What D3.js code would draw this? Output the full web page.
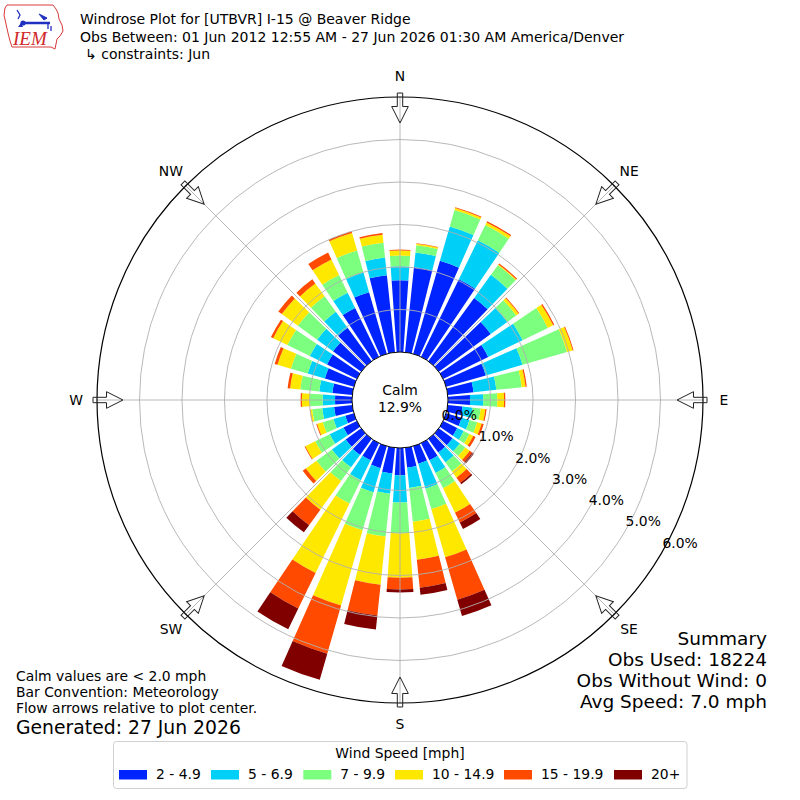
<!DOCTYPE html>
<html>
<head>
<meta charset="utf-8">
<script src="https://cdn.jsdelivr.net/npm/d3@7"></script>
<style>
  html, body { margin: 0; padding: 0; background: #fff; }
  svg { display: block; }
  text { font-family: "DejaVu Sans", sans-serif; fill: #000; }
</style>
</head>
<body>
<svg id="chart" width="800" height="800"></svg>
<script>
// ---------------- DATA ----------------
const directions = [0,10,20,30,40,50,60,70,80,90,100,110,120,130,140,150,160,170,
                    180,190,200,210,220,230,240,250,260,270,280,290,300,310,320,330,340,350];
const speedBins = ["2 - 4.9", "5 - 6.9", "7 - 9.9", "10 - 14.9", "15 - 19.9", "20+"];
const binColors = ["#0024ff", "#00d0f8", "#7cff7f", "#ffe800", "#ff4a00", "#800000"];
// percent of observations per direction for each speed bin
const speed2to5   = [1.69,2.01,2.28,2.03,1.84,1.51,1.18,0.97,0.61,0.52,0.35,0.38,0.37,0.40,0.40,0.45,0.43,0.47,
                     0.64,0.61,0.54,0.45,0.47,0.45,0.35,0.21,0.43,0.40,0.47,0.71,0.78,0.82,0.97,1.28,1.51,1.82];
const speed5to7   = [0.33,0.35,0.84,1.02,0.67,0.48,0.90,0.90,0.54,0.31,0.24,0.19,0.17,0.21,0.29,0.33,0.61,0.48,
                     0.64,0.48,0.59,0.52,0.36,0.40,0.36,0.29,0.28,0.29,0.31,0.42,0.45,0.46,0.47,0.40,0.48,0.42];
const speed7to10  = [0.25,0.17,0.40,0.40,0.28,0.26,0.66,1.09,0.60,0.33,0.19,0.19,0.15,0.16,0.26,0.40,0.50,0.80,
                     0.73,1.01,0.93,0.61,0.40,0.45,0.38,0.26,0.24,0.30,0.45,0.41,0.59,0.56,0.45,0.46,0.54,0.35];
const speed10to15 = [0.12,0.04,0.05,0.07,0.02,0.07,0.14,0.14,0.09,0.16,0.11,0.11,0.10,0.13,0.18,0.64,1.18,0.90,
                     1.04,1.14,1.84,1.82,0.83,0.31,0.26,0.14,0.04,0.19,0.24,0.33,0.37,0.47,0.37,0.41,0.43,0.19];
const speed15to20 = [0.02,0.01,0.02,0.03,0.03,0.02,0.03,0.02,0.03,0.03,0.03,0.05,0.06,0.07,0.15,0.26,1.04,0.66,
                     0.28,0.73,1.18,0.93,0.45,0.09,0.02,0.02,0.01,0.03,0.06,0.07,0.06,0.10,0.12,0.18,0.04,0.04];
const speed20plus = [0.00,0.00,0.00,0.00,0.00,0.00,0.00,0.00,0.00,0.00,0.00,0.00,0.00,0.05,0.04,0.17,0.40,0.17,
                     0.07,0.33,0.64,0.54,0.21,0.00,0.00,0.00,0.00,0.00,0.00,0.00,0.00,0.00,0.00,0.00,0.00,0.00];
const series = [speed2to5, speed5to7, speed7to10, speed10to15, speed15to20, speed20plus];
const radialTicks = [0,1,2,3,4,5,6];
const compassLabels = ["N","NE","E","SE","S","SW","W","NW"];
const calmPct = "12.9%";
const titleLines = ["Windrose Plot for [UTBVR] I-15 @ Beaver Ridge",
                    "Obs Between: 01 Jun 2012 12:55 AM - 27 Jun 2026 01:30 AM America/Denver",
                    "↳ constraints: Jun"];
const notes = ["Calm values are < 2.0 mph", "Bar Convention: Meteorology", "Flow arrows relative to plot center."];
const generated = "Generated: 27 Jun 2026";
const summary = ["Summary", "Obs Used: 18224", "Obs Without Wind: 0", "Avg Speed: 7.0 mph"];

// ---------------- LAYOUT ----------------
const svg = d3.select("#chart");
const cx = 400, cy = 400;
const r = d3.scaleLinear().domain([0, 6]).range([48, 303]);
const rad = d => d * Math.PI / 180;
const halfWidth = 4; // degrees

// stacked data
const stacked = directions.map((dir, i) => {
  let acc = 0;
  return series.map((s, k) => {
    const v0 = acc; acc += s[i];
    return {dir, k, v0, v1: acc};
  });
});

const g = svg.append("g").attr("transform", `translate(${cx},${cy})`);
const arc = d3.arc();

// bars
g.append("g").selectAll("g").data(stacked).join("g")
  .selectAll("path").data(d => d.filter(s => s.v1 > s.v0)).join("path")
  .attr("d", d => arc({innerRadius: r(d.v0), outerRadius: r(d.v1),
                       startAngle: rad(d.dir - halfWidth), endAngle: rad(d.dir + halfWidth)}))
  .attr("fill", d => binColors[d.k]);

// grid rings
g.append("g").selectAll("circle").data(radialTicks.slice(1, -1)).join("circle")
  .attr("r", d => r(d)).attr("fill", "none").attr("stroke", "#b0b0b0").attr("stroke-width", 0.9);

// radial grid lines
const compassAngles = compassLabels.map((_, i) => i * 45);
g.append("g").selectAll("line").data(compassAngles).join("line")
  .attr("x1", d => r(0) * Math.sin(rad(d))).attr("y1", d => -r(0) * Math.cos(rad(d)))
  .attr("x2", d => r(6) * Math.sin(rad(d))).attr("y2", d => -r(6) * Math.cos(rad(d)))
  .attr("stroke", "#b0b0b0").attr("stroke-width", 0.9);

// calm circle
g.append("circle").attr("r", r(0)).attr("fill", "#fff").attr("stroke", "#000").attr("stroke-width", 1);
g.append("text").attr("x", 0).attr("y", -5).attr("text-anchor", "middle").attr("font-size", 13.9).text("Calm");
g.append("text").attr("x", 0).attr("y", 12).attr("text-anchor", "middle").attr("font-size", 13.9).text(calmPct);

// outer frame
g.append("circle").attr("r", r(6)).attr("fill", "none").attr("stroke", "#000").attr("stroke-width", 1.2);

// arrows pointing to center
const arrowPts = [[-2.7,-307],[2.7,-307],[2.7,-293.5],[8.3,-293.5],[0,-277],[-8.3,-293.5],[-2.7,-293.5]];
g.append("g").selectAll("path").data(compassAngles).join("path")
  .attr("d", "M" + arrowPts.map(p => p.join(",")).join("L") + "Z")
  .attr("transform", d => `rotate(${d})`)
  .attr("fill", "none").attr("stroke", "#222").attr("stroke-width", 1);

// compass labels
g.append("g").selectAll("text").data(compassLabels).join("text")
  .attr("x", (d, i) => 324 * Math.sin(rad(i * 45)))
  .attr("y", (d, i) => -324 * Math.cos(rad(i * 45)))
  .attr("dy", "0.36em").attr("text-anchor", "middle").attr("font-size", 13.9).text(d => d);

// radial tick labels at compass 120 deg
g.append("g").selectAll("text").data(radialTicks).join("text")
  .attr("x", d => r(d) * Math.sin(rad(120)))
  .attr("y", d => -r(d) * Math.cos(rad(120)) - 4)
  .attr("font-size", 13.9).text(d => d.toFixed(1) + "%");

// ---------------- TITLE & LOGO ----------------
const logo = svg.append("g");
logo.append("path")
  .attr("d", "M7,5 L53,5 L56,9 L58,13 L59,19 L62,25 L63,31 L60,36 L57,39 L56,44 L55,49 L51,47 L12,47 L10,41 L8,33 L6,24 L4,15 L5,8 Z")
  .attr("fill", "none").attr("stroke", "#d83a3a").attr("stroke-width", 1);
logo.append("line").attr("x1", 24).attr("y1", 23).attr("x2", 50).attr("y2", 23).attr("stroke", "#1f2fbf").attr("stroke-width", 2.5);
logo.append("circle").attr("cx", 23).attr("cy", 23).attr("r", 2.6).attr("fill", "#1f2fbf");
logo.append("path").attr("d", "M17,10 L20,15 L18,19").attr("fill", "none").attr("stroke", "#1f2fbf").attr("stroke-width", 1.3);
logo.append("path").attr("d", "M39,14 L47,18 L44,20 Z").attr("fill", "#1f2fbf").attr("stroke", "#1f2fbf");
logo.append("path").attr("d", "M48,23 L48,29 M51,26 L51,31").attr("stroke", "#1f2fbf").attr("stroke-width", 1.3);
logo.append("path").attr("d", "M18,27 L21,23 L23,27 Z").attr("fill", "#1f2fbf");
logo.append("text").attr("x", 13).attr("y", 45)
  .style("font-family", "'Liberation Serif', serif").attr("font-style", "italic")
  .attr("font-size", 19).style("fill", "#d02828").text("IEM");

svg.append("g").selectAll("text").data(titleLines).join("text")
  .attr("x", (d, i) => i === 2 ? 85 : 80).attr("y", (d, i) => 24 + i * 17.6)
  .attr("font-size", 14).text(d => d);

// ---------------- NOTES ----------------
svg.append("g").selectAll("text").data(notes).join("text")
  .attr("x", 16).attr("y", (d, i) => 680.5 + i * 16)
  .attr("font-size", 13.9).text(d => d);
svg.append("text").attr("x", 16).attr("y", 733.5).attr("font-size", 18.8).text(generated);

svg.append("g").selectAll("text").data(summary).join("text")
  .attr("x", 767).attr("y", (d, i) => 645 + i * 21)
  .attr("text-anchor", "end").attr("font-size", 18.5).text(d => d);

// ---------------- LEGEND ----------------
const legend = svg.append("g");
legend.append("rect").attr("x", 113.5).attr("y", 741.5).attr("width", 573.5).attr("height", 47)
  .attr("rx", 3).attr("fill", "#fff").attr("stroke", "#d0d0d0").attr("stroke-width", 1);
legend.append("text").attr("x", 400).attr("y", 757.5).attr("text-anchor", "middle")
  .attr("font-size", 13.9).text("Wind Speed [mph]");
const legendX = [119, 211, 303.3, 395, 504, 614];
const items = legend.selectAll("g.item").data(speedBins).join("g").attr("class", "item")
  .attr("transform", (d, i) => `translate(${legendX[i]},0)`);
items.append("rect").attr("x", 0).attr("y", 770).attr("width", 28).attr("height", 9.5)
  .attr("fill", (d, i) => binColors[i]);
items.append("text").attr("x", 37).attr("y", 779).attr("font-size", 13.9).text(d => d);
</script>
</body>
</html>
